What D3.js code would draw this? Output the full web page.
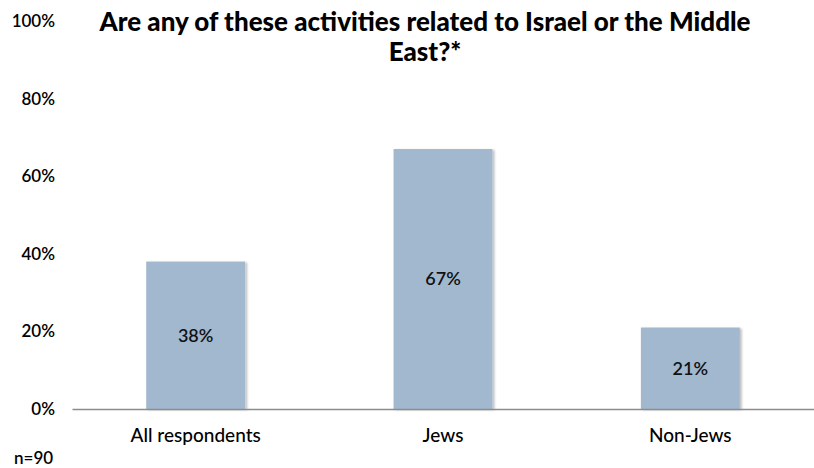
<!DOCTYPE html>
<html>
<head>
<meta charset="utf-8">
<script src="https://cdn.jsdelivr.net/npm/d3@7"></script>
<style>
  html, body { margin: 0; padding: 0; background: #fff; }
  svg { display: block; font-family: Lato, "Open Sans", sans-serif; }
</style>
</head>
<body>
<svg id="chart" width="814" height="468"></svg>
<script>
// Share of respondents whose activities relate to Israel or the Middle East
const categories = ["All respondents", "Jews", "Non-Jews"];
const values = [38, 67, 21];
const tickValues = [0, 20, 40, 60, 80, 100];
const titleLines = ["Are any of these activities related to Israel or the Middle", "East?*"];
const note = "n=90";

const svg = d3.select("#chart");
const margin = { left: 72, right: 0, top: 21, bottom: 59 };
const W = 814, H = 468;

const x = d3.scaleBand()
  .domain(categories)
  .range([margin.left, W - margin.right])
  .paddingInner(0.6)
  .paddingOuter(0.3);

const y = d3.scaleLinear()
  .domain([0, 100])
  .range([H - margin.bottom, margin.top]);

// soft shadow on the bars
const defs = svg.append("defs");
const f = defs.append("filter").attr("id", "shadow")
  .attr("x", "-10%").attr("y", "-10%").attr("width", "130%").attr("height", "130%");
f.append("feDropShadow").attr("dx", 2).attr("dy", 1).attr("stdDeviation", 1.2)
  .attr("flood-color", "#000").attr("flood-opacity", 0.25);

// y axis labels (no line, no ticks)
const yAxis = d3.axisLeft(y).tickValues(tickValues).tickFormat(d => d + "%").tickSize(0).tickPadding(0);
const gy = svg.append("g").attr("transform", `translate(55,0)`).call(yAxis);
gy.select(".domain").remove();
gy.selectAll("text")
  .attr("font-size", 17).attr("font-weight", 600).attr("fill", "#000")
  .attr("font-family", "Lato, sans-serif");

// bars
svg.append("g").selectAll("rect")
  .data(values)
  .join("rect")
  .attr("x", (d, i) => x(categories[i]))
  .attr("width", x.bandwidth())
  .attr("y", d => y(d))
  .attr("height", d => y(0) - y(d))
  .attr("fill", "#a1b8cf")
  .attr("filter", "url(#shadow)");

// value labels centred in the bars
svg.append("g").selectAll("text")
  .data(values)
  .join("text")
  .attr("x", (d, i) => x(categories[i]) + x.bandwidth() / 2)
  .attr("y", d => (y(d) + y(0)) / 2)
  .attr("dy", "0.35em")
  .attr("text-anchor", "middle")
  .attr("font-size", 18)
  .attr("font-weight", 600)
  .attr("fill", "#111")
  .text(d => d + "%");

// x axis baseline with category labels
const xAxis = d3.axisBottom(x).tickSize(0).tickPadding(20);
const gx = svg.append("g").attr("transform", `translate(0,${y(0)})`).call(xAxis);
gx.select(".domain").attr("stroke", "#8c8c8c").attr("stroke-width", 1.5);
gx.selectAll("text")
  .attr("font-size", 19).attr("font-weight", 500).attr("fill", "#000")
  .attr("font-family", "Lato, sans-serif");

// title
svg.append("text")
  .attr("text-anchor", "middle")
  .attr("font-size", 26)
  .attr("font-weight", 900)
  .attr("fill", "#000")
  .selectAll("tspan")
  .data(titleLines)
  .join("tspan")
  .attr("x", 425)
  .attr("y", (d, i) => 31 + i * 30)
  .text(d => d);

// sample size note
svg.append("text")
  .attr("x", 14).attr("y", 464)
  .attr("font-size", 17).attr("font-weight", 600).attr("fill", "#000")
  .text(note);
</script>
</body>
</html>
